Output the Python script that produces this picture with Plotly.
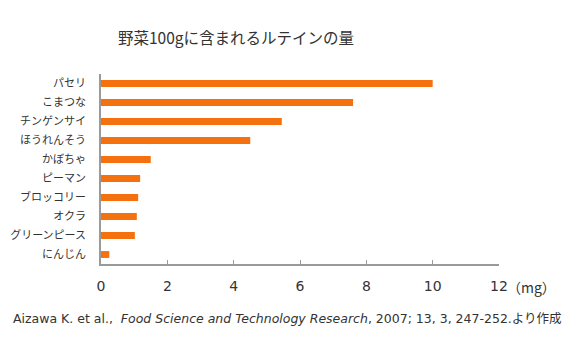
import plotly.graph_objects as go

# Lutein content per 100 g of vegetable (mg)
vegetables = ["パセリ", "こまつな", "チンゲンサイ", "ほうれんそう", "かぼちゃ",
              "ピーマン", "ブロッコリー", "オクラ", "グリーンピース", "にんじん"]
lutein_mg = [10.0, 7.6, 5.45, 4.5, 1.5, 1.18, 1.12, 1.08, 1.02, 0.25]
x_ticks = [0, 2, 4, 6, 8, 10, 12]

title_text = "野菜100gに含まれるルテインの量"
unit_text = "（mg）"
source_text = ("Aizawa K. et al.,&nbsp;&nbsp;<i>Food Science and Technology Research</i>, "
               "2007; 13, 3, 247-252.より作成")

font_family = "DejaVu Sans, Noto Sans CJK JP, sans-serif"
cjk_family = "Noto Sans CJK JP, sans-serif"
text_color = "#333333"
axis_color = "#9a9a9a"

W, H = 573, 338
L, R, T, B = 101, 74, 74, 74
plot_w = W - L - R
plot_h = H - T - B

fig = go.Figure(
    go.Bar(
        x=lutein_mg,
        y=vegetables,
        orientation="h",
        marker=dict(color="#F5700F", line=dict(width=0)),
        hoverinfo="x+y",
    )
)

fig.update_layout(
    width=W,
    height=H,
    margin=dict(l=L, r=R, t=T, b=B, autoexpand=False),
    paper_bgcolor="white",
    plot_bgcolor="white",
    bargap=0.64,
    showlegend=False,
    font=dict(family=font_family, color=text_color),
    title=dict(
        text=title_text,
        x=118 / W,
        xanchor="left",
        y=1 - 39 / H,
        yanchor="middle",
        font=dict(family=cjk_family, size=15.5, color=text_color),
    ),
)

fig.update_xaxes(
    range=[0, 12],
    tickvals=x_ticks,
    ticktext=[str(v) for v in x_ticks],
    showgrid=False,
    zeroline=False,
    showline=True,
    linecolor=axis_color,
    linewidth=1.5,
    ticks="inside",
    ticklen=4,
    tickcolor=axis_color,
    tickwidth=1,
    tickfont=dict(size=14, color=text_color, family=font_family),
    ticklabelstandoff=8,
    automargin=False,
    fixedrange=True,
)

fig.update_yaxes(
    categoryorder="array",
    categoryarray=vegetables[::-1],
    range=[-0.5, len(vegetables) - 0.5],
    showgrid=False,
    zeroline=False,
    showline=True,
    linecolor=axis_color,
    linewidth=1.5,
    ticks="",
    tickfont=dict(size=11, color=text_color, family=cjk_family),
    ticklabelstandoff=11,
    automargin=False,
    fixedrange=True,
)

# unit label after the last tick
fig.add_annotation(
    text=unit_text,
    x=12, xref="x",
    y=(T + plot_h - 287) / plot_h, yref="paper",
    xanchor="left", yanchor="middle",
    xshift=6,
    showarrow=False,
    font=dict(size=14, color=text_color, family=cjk_family),
)

# data source
fig.add_annotation(
    text=source_text,
    x=(11 - L) / plot_w, xref="paper",
    y=(T + plot_h - 318) / plot_h, yref="paper",
    xanchor="left", yanchor="middle",
    showarrow=False,
    font=dict(size=12.5, color=text_color, family=font_family),
)

fig.write_html("out.html")
